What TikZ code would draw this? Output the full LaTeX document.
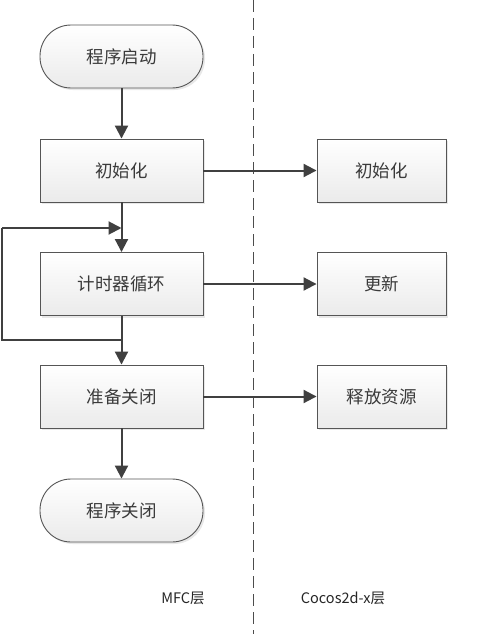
\documentclass[tikz,border=0pt]{standalone}
\usepackage{fontspec}
\setmainfont{Noto Sans CJK SC}
\usetikzlibrary{arrows.meta,shadows}
\definecolor{linec}{HTML}{404040}
\definecolor{boxline}{HTML}{555555}
\definecolor{txt}{HTML}{3A3A3A}
\tikzset{
  base/.style={draw=boxline, line width=0.9pt, top color=white, bottom color=black!8,
    drop shadow={shadow xshift=2pt, shadow yshift=-2pt, opacity=0.18},
    text=txt, font=\fontsize{17.5}{17.5}\selectfont, inner sep=0pt},
  lbox/.style={base, minimum width=163pt, minimum height=63pt},
  rbox/.style={base, minimum width=129pt, minimum height=63pt},
  term/.style={lbox, rounded corners=31pt},
  flow/.style={draw=linec, line width=2pt, -{Triangle[length=13pt,width=13pt]}},
  plain/.style={draw=linec, line width=2pt},
  lbl/.style={text=black!85, font=\fontsize{14.5}{14.5}\selectfont, inner sep=0pt}
}
\begin{document}
\begin{tikzpicture}[x=1pt,y=-1pt]
\useasboundingbox[fill=white] (0,0) rectangle (484,634);
\draw[draw=black!70, line width=1pt, dash pattern=on 12pt off 6pt] (253,0) -- (253,634);
\node[term] (start) at (121.5,56.5) {程序启动};
\node[lbox] (init) at (121.5,170.5) {初始化};
\node[lbox] (timer) at (121.5,284) {计时器循环};
\node[lbox] (prep) at (121.5,396.5) {准备关闭};
\node[term] (stop) at (121.5,510.5) {程序关闭};
\node[rbox] (rinit) at (381.5,170.5) {初始化};
\node[rbox] (rupd) at (381.5,284) {更新};
\node[rbox] (rfree) at (381.5,396.5) {释放资源};
\coordinate (lb) at (121.5,340);
\coordinate (lbl1) at (2,340);
\coordinate (ltl) at (2,228);
\coordinate (lt) at (121.5,228);
\draw[flow] (start) -- (init);
\draw[flow] (init) -- (timer);
\draw[flow] (timer) -- (prep);
\draw[flow] (prep) -- (stop);
\draw[plain] (lb) -- (lbl1) -- (ltl);
\draw[flow] (ltl) -- (lt);
\draw[flow] (init) -- (rinit);
\draw[flow] (timer) -- (rupd);
\draw[flow] (prep) -- (rfree);
\node[lbl] (mfc) at (183,598) {MFC层};
\node[lbl] (cocos) at (343,598) {Cocos2d-x层};
\end{tikzpicture}
\end{document}
